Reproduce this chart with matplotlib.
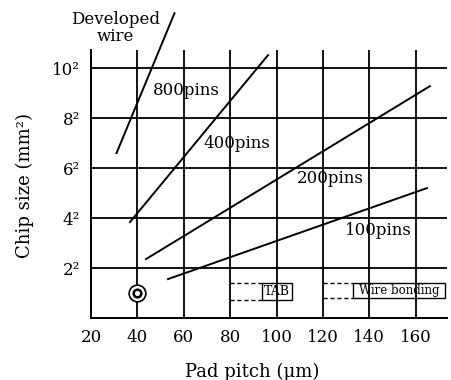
import matplotlib.pyplot as plt
import matplotlib.patches as mpatches

plt.rcParams['font.family'] = ['DejaVu Serif']

# pad pitch (um) / chip side (mm) end points of each boundary line
wire_x = [31, 56]
wire_y = [6.6, 12.2]
pins800_x = [36.8, 96.3]
pins800_y = [3.84, 10.52]
pins200_x = [43.7, 166.1]
pins200_y = [2.36, 9.28]
pins100_x = [53.2, 164.8]
pins100_y = [1.56, 5.2]

xticks = [20, 40, 60, 80, 100, 120, 140, 160]
yticks = [2, 4, 6, 8, 10]
ytick_labels = ['2²', '4²', '6²', '8²', '10²']

fig = plt.figure(figsize=(4.51, 3.80), dpi=100)
ax = fig.add_axes([0.2018, 0.163, 0.789, 0.705])
ax.set_xlim(20, 173.4)
ax.set_ylim(0, 10.72)

for s in ['top', 'right']:
    ax.spines[s].set_visible(False)
for s in ['left', 'bottom']:
    ax.spines[s].set_linewidth(1.4)

# grid
for x in xticks[1:]:
    ax.axvline(x, color='black', lw=1.3, zorder=1)
for y in yticks:
    ax.axhline(y, color='black', lw=1.3, zorder=1)

ax.set_xticks(xticks)
ax.set_yticks(yticks)
ax.set_yticklabels(ytick_labels)
ax.tick_params(length=0, labelsize=12, pad=8)

# boundary lines
ax.plot(wire_x, wire_y, color='black', lw=1.4, clip_on=False)
for xs, ys in [(pins800_x, pins800_y), (pins200_x, pins200_y), (pins100_x, pins100_y)]:
    ax.plot(xs, ys, color='black', lw=1.4)

ax.text(30.5, 11.6, 'Developed\nwire', ha='center', va='center', fontsize=12,
        linespacing=0.95, clip_on=False)
ax.text(60.9, 9.12, '800pins', ha='center', va='center', fontsize=12)
ax.text(83.0, 7.0, '400pins', ha='center', va='center', fontsize=12)
ax.text(123.2, 5.6, '200pins', ha='center', va='center', fontsize=12)
ax.text(143.7, 3.52, '100pins', ha='center', va='center', fontsize=12)

# current state marker
ax.plot([40], [1.0], marker='o', ms=12, mfc='white', mec='black', mew=1.2, zorder=5)
ax.plot([40], [1.0], marker='o', ms=5.5, mfc='white', mec='black', mew=1.8, zorder=6)

# TAB / wire bonding ranges
ax.plot([80, 93.5], [1.4, 1.4], ls=(0, (3, 2)), color='black', lw=1)
ax.plot([80, 93.5], [0.72, 0.72], ls=(0, (3, 2)), color='black', lw=1)
ax.add_patch(mpatches.Rectangle((93.5, 0.72), 13.3, 0.68, fill=False,
                                 ec='black', lw=1, zorder=3))
ax.text(100.1, 1.06, 'TAB', ha='center', va='center', fontsize=9)

ax.plot([120, 133], [1.4, 1.4], ls=(0, (3, 2)), color='black', lw=1)
ax.plot([120, 133], [0.8, 0.8], ls=(0, (3, 2)), color='black', lw=1)
ax.add_patch(mpatches.Rectangle((133, 0.8), 39.5, 0.6, fill=False,
                                 ec='black', lw=1, zorder=3))
ax.text(152.7, 1.1, 'Wire bonding', ha='center', va='center', fontsize=8.5)

fig.text(0.055, 0.513, 'Chip size (mm²)', rotation=90, ha='center', va='center', fontsize=13)
fig.text(0.559, 0.021, 'Pad pitch (μm)', ha='center', va='center', fontsize=13)

fig.savefig('out.png', dpi=100)
